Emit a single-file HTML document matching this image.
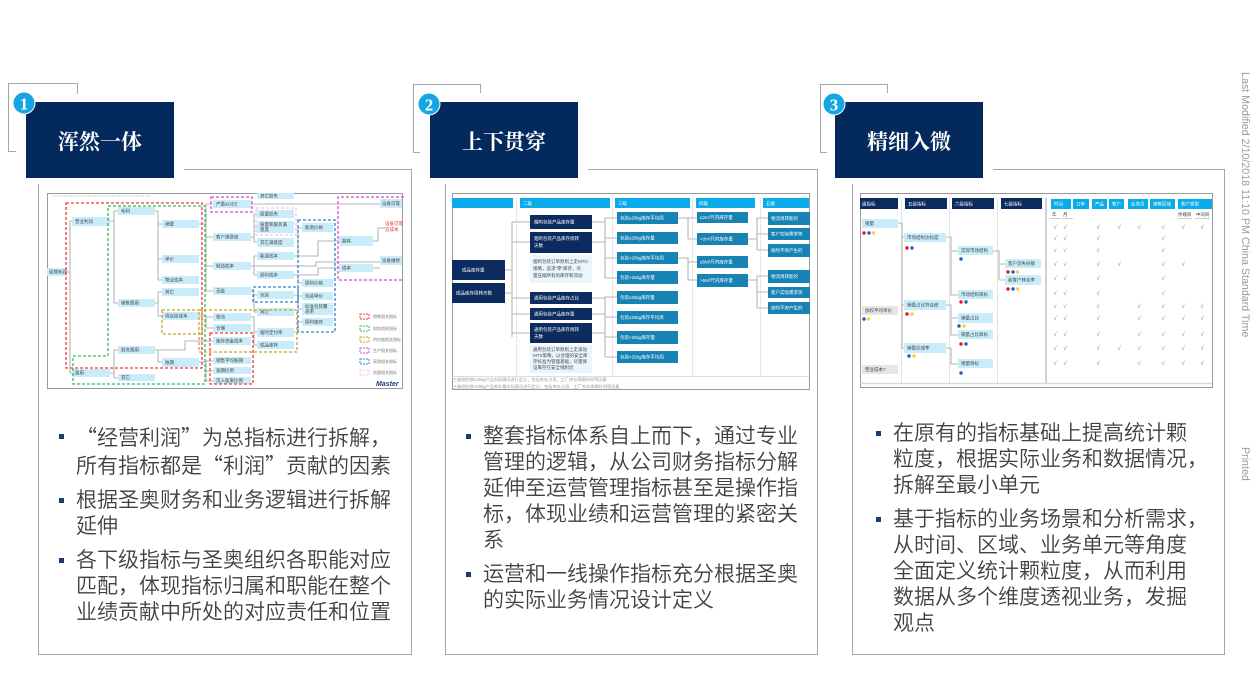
<!DOCTYPE html>
<html><head><meta charset="utf-8">
<style>
html,body{margin:0;padding:0;background:#fff;}
#wrap{position:relative;width:1255px;height:675px;overflow:hidden;background:#fff;}
svg{position:absolute;left:0;top:0;}
.p{position:absolute;font-family:"Liberation Sans","Noto Sans CJK SC",sans-serif;font-weight:350;font-size:21px;line-height:26px;color:#404040;white-space:nowrap;}
.p .b{position:relative;margin-bottom:8px;}
.p .b:before{content:"";position:absolute;left:-17px;top:10px;width:5px;height:5px;background:#1f3a6e;}
.ql{display:inline-block;width:21px;text-align:right;font-family:"Noto Sans CJK SC",sans-serif;}
.qr{display:inline-block;width:21px;text-align:left;font-family:"Noto Sans CJK SC",sans-serif;}
.side{position:absolute;font-family:"Liberation Sans",sans-serif;font-size:10.7px;color:#9a9a9a;transform-origin:0 0;transform:rotate(90deg);white-space:nowrap;}
</style></head><body><div id="wrap">
<svg width="1255" height="675" viewBox="0 0 1255 675" xmlns="http://www.w3.org/2000/svg">
<style>
.fr{fill:none;stroke:#a6a6a6;stroke-width:1}
.lb{fill:#c8ecfa}
.gb{fill:#e6e6e6}
.nv{fill:#0c2b5e}
.tl{fill:#1782b4}
.t{font-family:"Liberation Sans","Noto Sans CJK SC",sans-serif;font-size:4.5px;fill:#444}
.tw{font-family:"Liberation Sans","Noto Sans CJK SC",sans-serif;font-size:4.5px;fill:#fff}
.ln{fill:none;stroke:#b5b5b5;stroke-width:1.1}
.ds{fill:none;stroke-width:1.3;stroke-dasharray:3 2}
.ck{font-family:"Liberation Sans","DejaVu Sans",sans-serif;font-size:6px;fill:#888;text-anchor:middle}
.ttl{font-family:"Liberation Serif","Noto Serif CJK SC",serif;font-weight:700;font-size:21px;fill:#fff;text-anchor:middle}
.num{font-family:"Liberation Serif",serif;font-weight:700;font-size:17px;fill:#fff;text-anchor:middle}
</style>

<!-- frames -->
<path class="fr" d="M16 151.5 H8.5 V83.5 H77.5 V94"/>
<path class="fr" d="M184 169.5 H411.5 V654.5 H38.5 V184"/>
<path class="fr" d="M420 152.5 H413.5 V84.5 H480.5 V93"/>
<path class="fr" d="M588 169.5 H817.5 V654.5 H445.5 V184"/>
<path class="fr" d="M827 152.5 H820.5 V84.5 H887.5 V93"/>
<path class="fr" d="M993 169.5 H1224.5 V654.5 H852.5 V184"/>

<!-- header boxes -->
<rect x="26" y="102" width="148" height="76" fill="#042a5d"/>
<rect x="430" y="102" width="148" height="76" fill="#042a5d"/>
<rect x="835" y="102" width="148" height="76" fill="#042a5d"/>
<text class="ttl" x="100" y="149">浑然一体</text>
<text class="ttl" x="504" y="149">上下贯穿</text>
<text class="ttl" x="909" y="149">精细入微</text>
<circle cx="24" cy="103" r="11" fill="#14a6e4" stroke="#fff" stroke-width="1"/>
<text class="num" x="24" y="109.5">1</text>
<circle cx="429" cy="104" r="11" fill="#14a6e4" stroke="#fff" stroke-width="1"/>
<text class="num" x="429" y="110.5">2</text>
<circle cx="834" cy="104" r="11" fill="#14a6e4" stroke="#fff" stroke-width="1"/>
<text class="num" x="834" y="110.5">3</text>

<!-- ================= PANEL 1 DIAGRAM ================= -->
<rect x="47.5" y="193.5" width="355" height="195" fill="#fff" stroke="#9a9a9a" stroke-width="1"/>
<path d="M52 196 H150" stroke="#ddd" stroke-width="1.5" stroke-dasharray="2 1"/>
<path class="ln" d="M47 272 H70 M70 221 V373 M70 221 H72 M70 373 H72
M110 221 H114 M114 211 V303 M114 211 H118 M114 303 H118
M110 373 H114 M114 350 V378 M114 350 H118 M114 378 H118
M155 211 H158 V280 M158 224 H162 M158 259 H162 M158 280 H162
M155 303 H158 M158 292 V316 M158 292 H162 M158 316 H162
M155 350 H158 V362 H162 M155 350 H185 V341 H213
M199 224 H206 M206 204 V291 M206 204 H213 M206 237 H213 M206 266 H213 M206 291 H213
M199 316 H206 V328 M206 317 H213 M206 328 H213
M199 362 H206 M206 361 V381 M206 361 H213 M206 371 H213 M206 381 H213
M251 204 H380
M251 237 H254 M254 214 V242 M254 214 H257 M254 227 H257 M254 242 H257
M251 266 H254 M254 256 V275 M254 256 H257 M254 275 H257
M251 266 H316 V262 H380
M294 256 H298 V228 H302 M294 256 H318 V241 H339
M294 275 H298 V283 H302 M294 275 H318 V268 H339
M251 291 H254 V312 M254 295 H257 M254 312 H257
M294 295 H298 V309 M298 296 H302 M298 309 H302
M294 332 H298 V322 H302
M251 317 H254 V345 M254 332 H257 M254 345 H257
M373 241 H378 V228 H385 M373 268 H380"/>
<g>
<rect class="lb" x="47" y="268" width="20" height="8"/><text class="t" x="49" y="273.5">经营利润</text>
<rect class="lb" x="72" y="217" width="38" height="9"/><text class="t" x="75" y="223">营业利润</text>
<rect class="lb" x="72" y="369" width="38" height="8"/><text class="t" x="75" y="374.5">费用</text>
<rect class="lb" x="118" y="207" width="37" height="8"/><text class="t" x="121" y="212.5">毛利</text>
<rect class="lb" x="118" y="299" width="37" height="8"/><text class="t" x="121" y="304.5">销售费用</text>
<rect class="lb" x="118" y="346" width="37" height="8"/><text class="t" x="121" y="351.5">财务费用</text>
<rect class="lb" x="118" y="374" width="37" height="7"/><text class="t" x="121" y="379">其它</text>
<rect class="lb" x="162" y="220" width="37" height="8"/><text class="t" x="165" y="225.5">销量</text>
<rect class="lb" x="162" y="255" width="37" height="8"/><text class="t" x="165" y="260.5">单价</text>
<rect class="lb" x="162" y="276" width="37" height="8"/><text class="t" x="165" y="281.5">营业成本</text>
<rect class="lb" x="162" y="288" width="37" height="8"/><text class="t" x="165" y="293.5">其它</text>
<rect class="lb" x="162" y="312" width="37" height="8"/><text class="t" x="165" y="317.5">供应链成本</text>
<rect class="lb" x="162" y="358" width="37" height="9"/><text class="t" x="165" y="364">账期</text>
<rect class="lb" x="213" y="200" width="38" height="8"/><text class="t" x="216" y="205.5">产量&amp;OEE</text>
<rect class="lb" x="213" y="233" width="38" height="8"/><text class="t" x="216" y="238.5">客户满意度</text>
<rect class="lb" x="213" y="262" width="38" height="8"/><text class="t" x="216" y="267.5">制造成本</text>
<rect class="lb" x="213" y="287" width="38" height="8"/><text class="t" x="216" y="292.5">无级</text>
<rect class="lb" x="213" y="313" width="38" height="8"/><text class="t" x="216" y="318.5">物流</text>
<rect class="lb" x="213" y="324" width="38" height="8"/><text class="t" x="216" y="329.5">仓储</text>
<rect class="lb" x="213" y="337" width="38" height="8"/><text class="t" x="216" y="342.5">库存资金成本</text>
<rect class="lb" x="213" y="357" width="38" height="7"/><text class="t" x="216" y="362">销售平均账期</text>
<rect class="lb" x="213" y="367" width="38" height="7"/><text class="t" x="216" y="372">逾期比例</text>
<rect class="lb" x="213" y="377" width="38" height="7"/><text class="t" x="216" y="382">流入股来比例</text>
<rect class="lb" x="257" y="193" width="37" height="6"/><text class="t" x="260" y="197.5">其它损失</text>
<rect class="lb" x="257" y="210" width="37" height="8"/><text class="t" x="260" y="215.5">质量损失</text>
<rect class="lb" x="257" y="221" width="37" height="12"/><text class="t" x="260" y="226">质量和服务满</text><text class="t" x="260" y="231">意度</text>
<rect class="lb" x="257" y="238" width="37" height="9"/><text class="t" x="260" y="244">其它满意度</text>
<rect class="lb" x="257" y="252" width="37" height="8"/><text class="t" x="260" y="257.5">能源成本</text>
<rect class="lb" x="257" y="271" width="37" height="8"/><text class="t" x="260" y="276.5">原料成本</text>
<rect class="lb" x="257" y="291" width="37" height="8"/><text class="t" x="260" y="296.5">包装</text>
<rect class="lb" x="257" y="308" width="37" height="8"/><text class="t" x="260" y="313.5">其它</text>
<rect class="lb" x="257" y="328" width="37" height="9"/><text class="t" x="260" y="334">临时定付率</text>
<rect class="lb" x="257" y="341" width="37" height="8"/><text class="t" x="260" y="346.5">成品库存</text>
<rect class="lb" x="302" y="223" width="31" height="9"/><text class="t" x="305" y="229">能源价格</text>
<rect class="lb" x="302" y="279" width="31" height="8"/><text class="t" x="305" y="284.5">原料价格</text>
<rect class="lb" x="302" y="292" width="31" height="8"/><text class="t" x="305" y="297.5">包装单价</text>
<rect class="lb" x="302" y="303" width="31" height="12"/><text class="t" x="305" y="308">标准包装覆</text><text class="t" x="305" y="313">盖率</text>
<rect class="lb" x="302" y="318" width="31" height="8"/><text class="t" x="305" y="323.5">原料库存</text>
<rect class="lb" x="339" y="236" width="34" height="10"/><text class="t" x="342" y="242.5">能耗</text>
<rect class="lb" x="339" y="264" width="34" height="8"/><text class="t" x="342" y="269.5">成本</text>
<rect class="lb" x="380" y="199" width="22" height="9"/><text class="t" x="382" y="205">设备可靠</text>
<rect class="lb" x="380" y="256" width="22" height="9"/><text class="t" x="382" y="262">设备维修</text>
</g>
<text x="385" y="225" font-family="Liberation Sans,Noto Sans CJK SC,sans-serif" font-size="4.5" fill="#e83a3a">设备可靠</text>
<text x="385" y="231" font-family="Liberation Sans,Noto Sans CJK SC,sans-serif" font-size="4.5" fill="#e83a3a">造成本</text>
<!-- dashed groups -->
<rect class="ds" x="66" y="203" width="136" height="165" stroke="#f2383a"/>
<path class="ds" d="M108 206 H205 V384 H73 V356 H108 Z" stroke="#2ebd5c"/>
<rect class="ds" x="211" y="197" width="41" height="15" stroke="#d24ad6"/>
<rect class="ds" x="256" y="208" width="40" height="27" stroke="#f5c2e0"/>
<rect class="ds" x="298" y="220" width="37" height="112" stroke="#2d84d0"/>
<rect class="ds" x="253" y="287" width="45" height="15" stroke="#2d84d0"/>
<path class="ds" d="M404 197 H338 V280 H404" stroke="#d24ad6"/>
<rect class="ds" x="162" y="310" width="40" height="24" stroke="#c9a12a"/>
<rect class="ds" x="199" y="310" width="98" height="42" stroke="#c9a12a"/>
<rect class="ds" x="210" y="333" width="43" height="51" stroke="#f2383a"/>
<!-- legend -->
<g stroke-width="1" fill="none" stroke-dasharray="2 1">
<rect x="360" y="314" width="9" height="5" stroke="#f2383a"/>
<rect x="360" y="326" width="9" height="5" stroke="#2ebd5c"/>
<rect x="360" y="337" width="9" height="5" stroke="#c9a12a"/>
<rect x="360" y="348" width="9" height="5" stroke="#d24ad6"/>
<rect x="360" y="359" width="9" height="5" stroke="#2d84d0"/>
<rect x="360" y="370" width="9" height="5" stroke="#f5c2e0"/>
</g>
<g font-family="Liberation Sans,Noto Sans CJK SC,sans-serif" font-size="4" fill="#777">
<text x="373" y="318">销售相关指标</text>
<text x="373" y="330">财务相关指标</text>
<text x="373" y="341">供应链相关指标</text>
<text x="373" y="352">生产相关指标</text>
<text x="373" y="363">采购相关指标</text>
<text x="373" y="374">质量相关指标</text>
</g>
<text x="376" y="386" font-family="Liberation Sans,sans-serif" font-size="7" font-weight="700" font-style="italic" fill="#1c3c78">Master</text>

<!-- ================= PANEL 2 DIAGRAM ================= -->
<rect x="452.5" y="193.5" width="357" height="196" fill="#fff" stroke="#9a9a9a" stroke-width="1"/>
<rect x="452" y="198" width="61" height="10" fill="#0aabeb"/>
<rect x="520" y="198" width="90" height="10" fill="#0aabeb"/>
<rect x="615" y="198" width="75" height="10" fill="#0aabeb"/>
<rect x="696" y="198" width="59" height="10" fill="#0aabeb"/>
<rect x="763" y="198" width="46" height="10" fill="#0aabeb"/>
<g class="tw" font-size="5"><text class="tw" x="523" y="205">二级</text><text class="tw" x="618" y="205">三级</text><text class="tw" x="699" y="205">四级</text><text class="tw" x="766" y="205">五级</text></g>
<path d="M516.5 198 V375 M612.5 198 V375 M692.5 198 V375 M760.5 198 V375" stroke="#cfcfcf" stroke-width="1" stroke-dasharray="1 1"/>
<path class="ln" d="M505 270 H512 M505 293 H512 M512 222 V337 M512 222 H530 M512 242 H530 M512 298 H530 M512 314 H530 M512 333 H530
M592 222 H605 M592 242 H605 M605 218 V278 M605 218 H617 M605 238 H617 M605 258 H617 M605 278 H617
M592 298 H605 M592 314 H605 M592 333 H605 M605 297 V357 M605 297 H617 M605 317 H617 M605 337 H617 M605 357 H617
M678 218 H688 V239 M688 218 H697 M688 239 H697 M678 258 H688 V280 M688 262 H697 M688 280 H697
M748 239 H757 M757 218 V250 M757 218 H768 M757 234 H768 M757 250 H768
M748 280 H757 M757 276 V308 M757 276 H768 M757 292 H768 M757 308 H768"/>
<rect class="nv" x="452" y="260" width="53" height="20"/><text class="tw" x="462" y="271.5">成品库存量</text>
<rect class="nv" x="452" y="283" width="53" height="20"/><text class="tw" x="456" y="294.5">成品库存周转天数</text>
<rect class="nv" x="530" y="215" width="62" height="14"/><text class="tw" x="534" y="223.5">烟鸡包装产品库存量</text>
<rect class="nv" x="530" y="232" width="62" height="21"/><text class="tw" x="534" y="240">烟鸡包装产品库存周转</text><text class="tw" x="534" y="247">天数</text>
<rect x="530" y="255" width="62" height="28" fill="#eaf6fd"/>
<text class="t" x="533" y="263">烟鸡包装订单原则上走MTO</text><text class="t" x="533" y="270">策略，追求“零”库存，尽</text><text class="t" x="533" y="277">量压缩所有的库存和流动</text>
<rect class="nv" x="530" y="292" width="62" height="12"/><text class="tw" x="534" y="299.5">通用包装产品库存占比</text>
<rect class="nv" x="530" y="308" width="62" height="12"/><text class="tw" x="534" y="315.5">通用包装产品库存量</text>
<rect class="nv" x="530" y="323" width="62" height="20"/><text class="tw" x="534" y="331">通用包装产品库存周转</text><text class="tw" x="534" y="338">天数</text>
<rect x="530" y="345" width="62" height="28" fill="#eaf6fd"/>
<text class="t" x="533" y="351">通用包装订单原则上走滚动</text><text class="t" x="533" y="357">MTS策略，以合理的安全库</text><text class="t" x="533" y="363">存标准为管理基础，尽量保</text><text class="t" x="533" y="369">证库存在安全线附近</text>
<g>
<rect class="tl" x="617" y="212" width="61" height="12"/><text class="tw" x="620" y="219.5">包装≤25kg库存平均周</text>
<rect class="tl" x="617" y="232" width="61" height="12"/><text class="tw" x="620" y="239.5">包装≤25kg库存量</text>
<rect class="tl" x="617" y="252" width="61" height="12"/><text class="tw" x="620" y="259.5">包装&gt;25kg库存平均周</text>
<rect class="tl" x="617" y="271" width="61" height="13"/><text class="tw" x="620" y="279">包装&gt;25kg库存量</text>
<rect class="tl" x="617" y="291" width="61" height="13"/><text class="tw" x="620" y="299">包装≤25kg库存量</text>
<rect class="tl" x="617" y="311" width="61" height="13"/><text class="tw" x="620" y="319">包装≤25kg库存平均周</text>
<rect class="tl" x="617" y="331" width="61" height="13"/><text class="tw" x="620" y="339">包装&gt;25kg库存量</text>
<rect class="tl" x="617" y="351" width="61" height="12"/><text class="tw" x="620" y="358.5">包装&gt;25kg库存平均周</text>
<rect class="tl" x="697" y="212" width="51" height="11"/><text class="tw" x="700" y="219">≤2m³尺内库存量</text>
<rect class="tl" x="697" y="233" width="51" height="12"/><text class="tw" x="700" y="240.5">&gt;2m³尺内库存量</text>
<rect class="tl" x="697" y="256" width="51" height="12"/><text class="tw" x="700" y="263.5">≤5M³尺内库存量</text>
<rect class="tl" x="697" y="274" width="51" height="13"/><text class="tw" x="700" y="282">&gt;5M³尺内库存量</text>
<rect class="tl" x="768" y="212" width="42" height="13"/><text class="tw" x="771" y="220">物流周转能的</text>
<rect class="tl" x="768" y="228" width="42" height="12"/><text class="tw" x="771" y="235.5">客户实际需求等</text>
<rect class="tl" x="768" y="244" width="42" height="13"/><text class="tw" x="771" y="252">按时不停产生的</text>
<rect class="tl" x="768" y="270" width="42" height="13"/><text class="tw" x="771" y="278">物流周转能的</text>
<rect class="tl" x="768" y="287" width="42" height="11"/><text class="tw" x="771" y="294">客户实际需求等</text>
<rect class="tl" x="768" y="302" width="42" height="12"/><text class="tw" x="771" y="309.5">按时不停产生的</text>
</g>
<path d="M452 376.5 H809" stroke="#ddd" stroke-width="1"/>
<text x="453" y="381" font-family="Liberation Sans,Noto Sans CJK SC,sans-serif" font-size="4.2" fill="#999">三级细包装≤25kg产品实际情况进行定义，包括库存占用，工厂库存周期时间等因素</text>
<text x="453" y="388" font-family="Liberation Sans,Noto Sans CJK SC,sans-serif" font-size="4.2" fill="#999">三级细包装&gt;25kg产品库存量实际情况进行定义，包括库存占用，工厂库存周期时间等因素</text>

<!-- ================= PANEL 3 DIAGRAM ================= -->
<rect x="860.5" y="193.5" width="352" height="194" fill="#fff" stroke="#9a9a9a" stroke-width="1"/>
<path d="M901.5 198 V383 M949.5 198 V383 M997.5 198 V383" stroke="#e2e2e2" stroke-width="1"/>
<path d="M1046 198 V383" stroke="#d0d0d0" stroke-width="2"/>
<path d="M860 383.5 H1212" stroke="#d8d8d8" stroke-width="1.5"/>
<rect class="nv" x="860" y="198" width="38" height="11"/><text class="tw" x="862" y="205.5">级指标</text>
<rect class="nv" x="905" y="198" width="42" height="11"/><text class="tw" x="908" y="205.5">五级指标</text>
<rect class="nv" x="952" y="198" width="42" height="11"/><text class="tw" x="955" y="205.5">六级指标</text>
<rect class="nv" x="1001" y="198" width="41" height="11"/><text class="tw" x="1004" y="205.5">七级指标</text>
<g>
<rect x="1051" y="199" width="20" height="10" fill="#0aabeb"/><text class="tw" x="1054" y="205.5">时间</text>
<rect x="1073" y="199" width="16" height="10" fill="#0aabeb"/><text class="tw" x="1076" y="205.5">订单</text>
<rect x="1092" y="199" width="15" height="10" fill="#0aabeb"/><text class="tw" x="1095" y="205.5">产品</text>
<rect x="1109" y="199" width="15" height="10" fill="#0aabeb"/><text class="tw" x="1112" y="205.5">客户</text>
<rect x="1128" y="199" width="20" height="10" fill="#0aabeb"/><text class="tw" x="1131" y="205.5">业务员</text>
<rect x="1150" y="199" width="25" height="10" fill="#0aabeb"/><text class="tw" x="1153" y="205.5">销售区域</text>
<rect x="1178" y="199" width="34" height="10" fill="#0aabeb"/><text class="tw" x="1181" y="205.5">客户类型</text>
</g>
<text class="t" x="1052" y="216">年</text><text class="t" x="1063" y="216">月</text>
<text class="t" x="1178" y="216">终端商</text><text class="t" x="1196" y="216">中间商</text>
<path d="M1050 218.5 H1060 M1062 218.5 H1073 M1178 218.5 H1192 M1195 218.5 H1210" stroke="#bbb" stroke-width="0.8"/>
<path class="ln" d="M898 223 H902 V348 M902 237 H904 M902 305 H904 M902 348 H904
M946 237 H951 V295 M951 251 H958 M951 295 H958
M946 305 H951 V335 M951 318 H958 M951 335 H958
M946 348 H951 V364 H958
M993 251 H999 V280 M999 264 H1005 M999 280 H1005"/>
<rect class="lb" x="862" y="219" width="36" height="9"/><text class="t" x="865" y="225">销量</text>
<rect class="gb" x="862" y="306" width="36" height="9"/><text class="t" x="865" y="312">加权平均单价</text>
<rect class="gb" x="862" y="365" width="36" height="9"/><text class="t" x="865" y="371">营业成本?</text>
<rect class="lb" x="904" y="233" width="42" height="9"/><text class="t" x="907" y="239">市场结构达标度</text>
<rect class="lb" x="904" y="300" width="42" height="10"/><text class="t" x="907" y="306.5">销量占比符合度</text>
<rect class="lb" x="904" y="343" width="42" height="10"/><text class="t" x="907" y="349.5">销量达成率</text>
<rect class="lb" x="958" y="246" width="35" height="9"/><text class="t" x="961" y="252">实际市场结构</text>
<rect class="lb" x="958" y="290" width="35" height="9"/><text class="t" x="961" y="296">市场结构目标</text>
<rect class="lb" x="958" y="313" width="35" height="10"/><text class="t" x="961" y="319.5">销量占比</text>
<rect class="lb" x="958" y="330" width="35" height="9"/><text class="t" x="961" y="336">销量占比目标</text>
<rect class="lb" x="958" y="359" width="35" height="9"/><text class="t" x="961" y="365">销量目标</text>
<rect class="lb" x="1005" y="259" width="36" height="9"/><text class="t" x="1008" y="265">客户流失份额</text>
<rect class="lb" x="1005" y="275" width="36" height="10"/><text class="t" x="1008" y="281.5">新客户转化率</text>
<g>
<circle cx="864" cy="233" r="1.7" fill="#e8141a"/><circle cx="869" cy="233" r="1.7" fill="#1560c0"/><circle cx="873.5" cy="233" r="1.7" fill="#ffcc33"/>
<circle cx="864" cy="319" r="1.7" fill="#1560c0"/><circle cx="868.5" cy="319" r="1.7" fill="#ffcc33"/>
<circle cx="907" cy="248" r="1.7" fill="#e8141a"/><circle cx="912" cy="248" r="1.7" fill="#1560c0"/>
<circle cx="907" cy="314" r="1.7" fill="#e8141a"/><circle cx="912" cy="314" r="1.7" fill="#ffcc33"/>
<circle cx="909" cy="356" r="1.7" fill="#1560c0"/><circle cx="914" cy="356" r="1.7" fill="#ffcc33"/>
<circle cx="961" cy="259" r="1.7" fill="#1560c0"/>
<circle cx="961" cy="302" r="1.7" fill="#e8141a"/><circle cx="966" cy="302" r="1.7" fill="#1560c0"/>
<circle cx="959" cy="326" r="1.7" fill="#1560c0"/><circle cx="964" cy="326" r="1.7" fill="#ffcc33"/>
<circle cx="961" cy="344" r="1.7" fill="#e8141a"/><circle cx="966" cy="344" r="1.7" fill="#1560c0"/>
<circle cx="961" cy="373" r="1.7" fill="#1560c0"/>
<circle cx="1008" cy="272" r="1.7" fill="#e8141a"/><circle cx="1013" cy="272" r="1.7" fill="#1560c0"/><circle cx="1017.5" cy="272" r="1.7" fill="#ffcc33"/>
<circle cx="1008" cy="289" r="1.7" fill="#e8141a"/><circle cx="1013" cy="289" r="1.7" fill="#1560c0"/><circle cx="1017.5" cy="289" r="1.7" fill="#ffcc33"/>
</g>
<g>
<text class="ck" x="1055" y="229">√</text><text class="ck" x="1065" y="229">√</text><text class="ck" x="1098" y="229">√</text><text class="ck" x="1119" y="229">√</text><text class="ck" x="1139" y="229">√</text><text class="ck" x="1163" y="229">√</text><text class="ck" x="1183" y="229">√</text><text class="ck" x="1202" y="229">√</text>
<text class="ck" x="1055" y="240">√</text><text class="ck" x="1065" y="240">√</text><text class="ck" x="1098" y="240">√</text><text class="ck" x="1163" y="240">√</text>
<text class="ck" x="1055" y="252">√</text><text class="ck" x="1065" y="252">√</text><text class="ck" x="1098" y="252">√</text><text class="ck" x="1163" y="252">√</text>
<text class="ck" x="1055" y="266">√</text><text class="ck" x="1065" y="266">√</text><text class="ck" x="1098" y="266">√</text><text class="ck" x="1119" y="266">√</text><text class="ck" x="1163" y="266">√</text><text class="ck" x="1183" y="266">√</text>
<text class="ck" x="1055" y="280">√</text><text class="ck" x="1065" y="280">√</text><text class="ck" x="1098" y="280">√</text><text class="ck" x="1163" y="280">√</text>
<text class="ck" x="1055" y="295">√</text><text class="ck" x="1065" y="295">√</text><text class="ck" x="1098" y="295">√</text><text class="ck" x="1163" y="295">√</text>
<text class="ck" x="1055" y="308">√</text><text class="ck" x="1065" y="308">√</text><text class="ck" x="1098" y="308">√</text><text class="ck" x="1139" y="308">√</text><text class="ck" x="1163" y="308">√</text><text class="ck" x="1183" y="308">√</text><text class="ck" x="1202" y="308">√</text>
<text class="ck" x="1055" y="320">√</text><text class="ck" x="1065" y="320">√</text><text class="ck" x="1098" y="320">√</text><text class="ck" x="1139" y="320">√</text><text class="ck" x="1163" y="320">√</text><text class="ck" x="1183" y="320">√</text><text class="ck" x="1202" y="320">√</text>
<text class="ck" x="1055" y="336">√</text><text class="ck" x="1065" y="336">√</text><text class="ck" x="1098" y="336">√</text><text class="ck" x="1139" y="336">√</text><text class="ck" x="1163" y="336">√</text><text class="ck" x="1183" y="336">√</text><text class="ck" x="1202" y="336">√</text>
<text class="ck" x="1055" y="350">√</text><text class="ck" x="1065" y="350">√</text><text class="ck" x="1098" y="350">√</text><text class="ck" x="1119" y="350">√</text><text class="ck" x="1139" y="350">√</text><text class="ck" x="1163" y="350">√</text><text class="ck" x="1183" y="350">√</text><text class="ck" x="1202" y="350">√</text>
<text class="ck" x="1055" y="365">√</text><text class="ck" x="1065" y="365">√</text><text class="ck" x="1098" y="365">√</text><text class="ck" x="1139" y="365">√</text><text class="ck" x="1163" y="365">√</text><text class="ck" x="1183" y="365">√</text><text class="ck" x="1202" y="365">√</text>
</g>
</svg>

<div class="p" style="left:76px;top:424px;">
<div class="b"><span class="ql">“</span>经营利润<span class="qr">”</span>为总指标进行拆解，<br>所有指标都是<span class="ql">“</span>利润<span class="qr">”</span>贡献的因素</div>
<div class="b">根据圣奥财务和业务逻辑进行拆解<br>延伸</div>
<div class="b">各下级指标与圣奥组织各职能对应<br>匹配，体现指标归属和职能在整个<br>业绩贡献中所处的对应责任和位置</div>
</div>

<div class="p" style="left:483px;top:424px;">
<div class="b">整套指标体系自上而下，通过专业<br>管理的逻辑，从公司财务指标分解<br>延伸至运营管理指标甚至是操作指<br>标，体现业绩和运营管理的紧密关<br>系</div>
<div class="b">运营和一线操作指标充分根据圣奥<br>的实际业务情况设计定义</div>
</div>

<div class="p" style="left:893px;top:421px;">
<div class="b">在原有的指标基础上提高统计颗<br>粒度，根据实际业务和数据情况，<br>拆解至最小单元</div>
<div class="b">基于指标的业务场景和分析需求，<br>从时间、区域、业务单元等角度<br>全面定义统计颗粒度，从而利用<br>数据从多个维度透视业务，发掘<br>观点</div>
</div>

<div class="side" style="left:1251px;top:72px;">Last Modified 2/10/2018 11:10 PM China Standard Time</div>
<div class="side" style="left:1251px;top:447px;">Printed</div>
</div></body></html>
